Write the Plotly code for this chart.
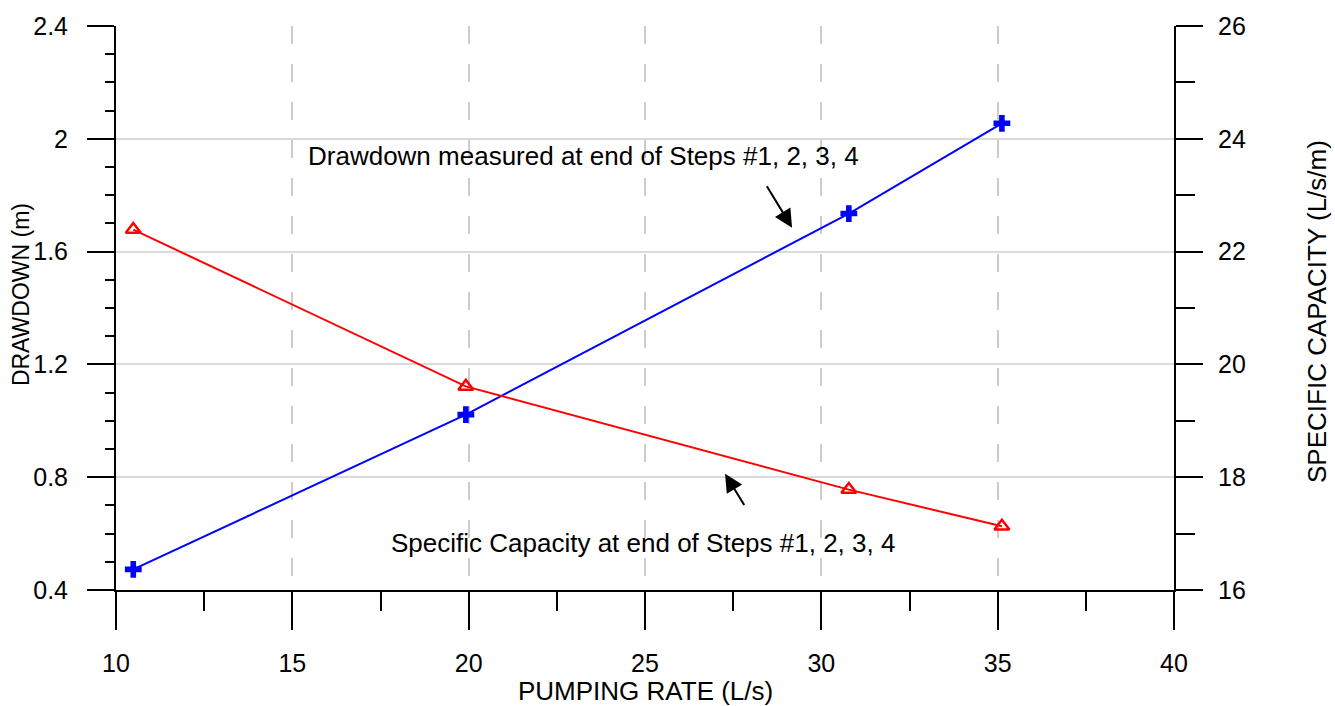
import plotly.graph_objects as go

# Data
pumping_rate = [10.49, 19.92, 30.78, 35.12]          # L/s
drawdown = [0.473, 1.022, 1.735, 2.055]              # m
specific_capacity = [22.39, 19.61, 17.78, 17.13]     # L/s/m

x_ticks = [10, 15, 20, 25, 30, 35, 40]
y_ticks = [0.4, 0.8, 1.2, 1.6, 2.0, 2.4]
y2_ticks = [16, 18, 20, 22, 24, 26]

FONT = "Liberation Sans, Arial, sans-serif"

fig = go.Figure()
fig.add_trace(go.Scatter(
    x=pumping_rate, y=drawdown, mode="lines+markers",
    line=dict(color="#0000ff", width=2),
    marker=dict(symbol="cross", size=14, color="#0000ff", line=dict(width=0)),
    showlegend=False, cliponaxis=False))
fig.add_trace(go.Scatter(
    x=pumping_rate, y=specific_capacity, mode="lines+markers", yaxis="y2",
    line=dict(color="#ff0000", width=2),
    marker=dict(symbol="triangle-up-open", size=13, color="#ff0000",
                line=dict(width=2.5, color="#ff0000")),
    showlegend=False, cliponaxis=False))

tickfont = dict(family=FONT, size=25, color="black")

fig.update_layout(
    width=1335, height=706,
    margin=dict(l=116, r=161, t=22, b=116),
    plot_bgcolor="white", paper_bgcolor="white",
    font=dict(family=FONT, color="black"),
    xaxis=dict(
        range=[10, 40], tickvals=x_ticks, ticktext=[str(v) for v in x_ticks],
        showline=True, linecolor="black", linewidth=2,
        ticks="outside", ticklen=38, tickwidth=2, tickcolor="black",
        tickfont=tickfont, ticklabelstandoff=12,
        showgrid=True, gridcolor="#cccccc", gridwidth=2, griddash="18px,20px",
        zeroline=False,
        minor=dict(dtick=2.5, ticks="outside", ticklen=19, tickwidth=2,
                   tickcolor="black", showgrid=False),
    ),
    yaxis=dict(
        range=[0.4, 2.4], tickvals=y_ticks,
        ticktext=["0.4", "0.8", "1.2", "1.6", "2", "2.4"],
        showline=True, linecolor="black", linewidth=2,
        ticks="outside", ticklen=27, tickwidth=2, tickcolor="black",
        tickfont=tickfont, ticklabelstandoff=14,
        showgrid=True, gridcolor="#dadada", gridwidth=2,
        zeroline=False,
        minor=dict(dtick=0.1, ticks="outside", ticklen=9, tickwidth=2,
                   tickcolor="black", showgrid=False),
    ),
    yaxis2=dict(
        range=[16, 26], tickvals=y2_ticks, overlaying="y", side="right",
        anchor="x",
        showline=True, linecolor="black", linewidth=2,
        ticks="outside", ticklen=27, tickwidth=2, tickcolor="black",
        tickfont=tickfont, ticklabelstandoff=10,
        showgrid=False, zeroline=False,
        minor=dict(dtick=1, ticks="outside", ticklen=19, tickwidth=2,
                   tickcolor="black", showgrid=False),
    ),
)

annotations = [
    # axis titles
    dict(text="PUMPING RATE (L/s)", xref="paper", yref="paper", x=0.5, y=-0.1796,
         xanchor="center", yanchor="middle", showarrow=False,
         font=dict(family=FONT, size=26, color="black")),
    dict(text="DRAWDOWN (m)", xref="paper", yref="paper", x=-0.0898, y=0.5246,
         xanchor="center", yanchor="middle", showarrow=False, textangle=-90,
         font=dict(family=FONT, size=23, color="black")),
    dict(text="SPECIFIC CAPACITY (L/s/m)", xref="paper", yref="paper", x=1.1352, y=0.493,
         xanchor="center", yanchor="middle", showarrow=False, textangle=-90,
         font=dict(family=FONT, size=26, color="black")),
    # callout texts
    dict(text="Drawdown measured at end of Steps #1, 2, 3, 4", xref="x", yref="y",
         x=23.26, y=1.94, xanchor="center", yanchor="middle", showarrow=False,
         font=dict(family=FONT, size=26, color="black")),
    dict(text="Specific Capacity at end of Steps #1, 2, 3, 4", xref="x", yref="y",
         x=24.95, y=0.565, xanchor="center", yanchor="middle", showarrow=False,
         font=dict(family=FONT, size=26, color="black")),
    # arrows
    dict(text="", xref="x", yref="y", x=29.17, y=1.685, axref="x", ayref="y",
         ax=28.43, ay=1.837, showarrow=True, arrowhead=2, arrowsize=1.8,
         arrowwidth=2, arrowcolor="black", standoff=0),
    dict(text="", xref="x", yref="y", x=27.27, y=0.812, axref="x", ayref="y",
         ax=27.84, ay=0.696, showarrow=True, arrowhead=2, arrowsize=1.8,
         arrowwidth=2, arrowcolor="black", standoff=0),
]
fig.update_layout(annotations=annotations)

fig.write_html("out.html")
